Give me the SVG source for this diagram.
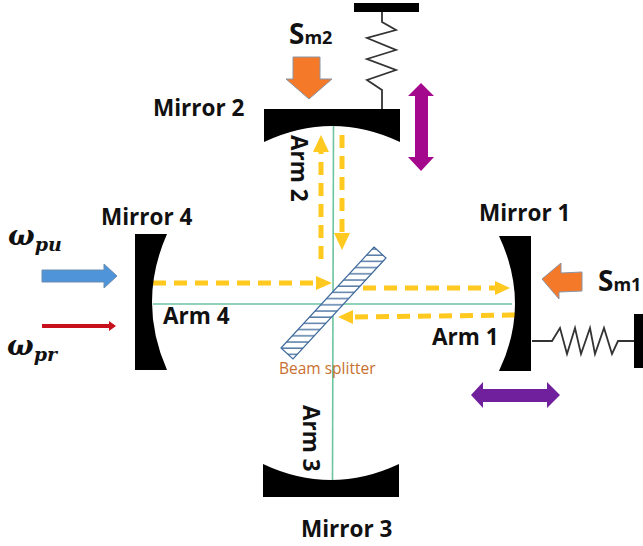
<svg xmlns="http://www.w3.org/2000/svg" width="643" height="546" viewBox="0 0 643 546">
<style>
text{font-family:"Open Sans","Liberation Sans",sans-serif;font-weight:700;fill:#111}
.lbl{font-size:22.500px}
.sig{font-size:28px;font-weight:700}
.sub{font-family:"DejaVu Serif",serif;font-weight:700;font-style:italic;fill:#111}
.m{fill:#000}
.g{stroke:#6cc5a0;stroke-width:1.6;fill:none}
.d{stroke:#ffc91f;stroke-width:5;stroke-dasharray:13 8;fill:none}
.h{fill:#ffc91f}
.s{stroke:#333;stroke-width:1.8;fill:none;stroke-linejoin:miter}
</style>
<defs>
<pattern id="hatch" width="8" height="6.2" patternUnits="userSpaceOnUse">
<rect width="8" height="6.2" fill="#fff"/><line x1="0" y1="1" x2="8" y2="1" stroke="#3f6a9c" stroke-width="1.3"/>
</pattern>
</defs>
<g id="connectors">
<line class="g" x1="333.500" y1="126" x2="332.500" y2="480"/>
<line class="g" x1="153" y1="304" x2="512" y2="304"/>
<path class="d" d="M321 259V150"/><path class="h" d="M321 135l8 17h-16z"/>
<path class="d" d="M342 135V236"/><path class="h" d="M342 250l-8-17h16z"/>
<path class="d" d="M153 283H320"/><path class="h" d="M332 283l-16-7v14z"/>
<path class="d" d="M363 288H497"/><path class="h" d="M510 288l-15-7v14z"/>
<path class="d" d="M515 315L352 317"/><path class="h" d="M338 317l15-7v14z"/>
</g>
<g id="beam-splitter">
<polygon points="374,247 386,258 293,359 281,348" fill="url(#hatch)" stroke="#3f6a9c" stroke-width="1.200"/>
<text x="279" y="374" style="font-size:15.500px;font-weight:400;fill:#c7702f">Beam splitter</text>
</g>
<g id="mirror-2">
<path class="m" d="M264 109H400V142Q332 110 264 142Z"/>
<text class="lbl" x="153" y="116">Mirror 2</text>
<text class="lbl" transform="translate(291,135) rotate(90)">Arm 2</text>
</g>
<g id="mirror-4">
<path class="m" d="M135 234H167Q137 302 167 370H135Z"/>
<text class="lbl" x="101" y="225">Mirror 4</text>
<text class="lbl" x="163" y="324">Arm 4</text>
</g>
<g id="mirror-1">
<path class="m" d="M499 236H531V371H499Q531 304 499 236Z"/>
<text class="lbl" x="479" y="221">Mirror 1</text>
<text class="lbl" x="432" y="345">Arm 1</text>
</g>
<g id="mirror-3">
<path class="m" d="M263 464Q331 496 399 464V497H263Z"/>
<text class="lbl" x="301" y="537">Mirror 3</text>
<text class="lbl" transform="translate(303,405) rotate(90)">Arm 3</text>
</g>
<g id="spring-2">
<rect x="354" y="3" width="65" height="9" fill="#000"/>
<path class="s" d="M382 12V22L396 30 367 38 396 50 367 59 396 70 367 80 382 90V109"/>
</g>
<g id="spring-1">
<rect x="634" y="314" width="9" height="54" fill="#000"/>
<path class="s" d="M532 341H552L560 328 567 354 575 328 581 354 590 328 595 354 604 328 612 354 618 341H634"/>
</g>
<g id="motion-2"><path d="M421 83L434 96H428V157H434L421 171 408 157H415V96H408Z" fill="#a4088c"/></g>
<g id="motion-1"><path d="M471 395L483 382V389H547V382L560 395 547 408V402H483V408Z" fill="#70209c"/></g>
<g id="signal-m2">
<path d="M293 57H320V79H332L309 99 286 79H293Z" fill="#f47a2a" stroke="#8a94a5"/>
<text class="sig" x="289" y="44">S<tspan font-size="18">m2</tspan></text>
</g>
<g id="signal-m1">
<path d="M582 272L561 273V263L542 279 559 299V292L582 291Z" fill="#f47a2a" stroke="#8a94a5"/>
<text class="sig" x="598" y="291">S<tspan font-size="18">m1</tspan></text>
</g>
<g id="pump">
<path d="M42 270H104V264L117 276 104 288V282H42Z" fill="#4f94d8" stroke="#6a8db0"/>
<text class="sub" x="8" y="245" font-size="28">ω<tspan font-size="19" dy="6">pu</tspan></text>
</g>
<g id="probe">
<path d="M42 324H109V321L116 326 109 331V328H42Z" fill="#c8101c"/>
<text class="sub" x="7" y="355" font-size="28">ω<tspan font-size="19" dy="6">pr</tspan></text>
</g>
</svg>
